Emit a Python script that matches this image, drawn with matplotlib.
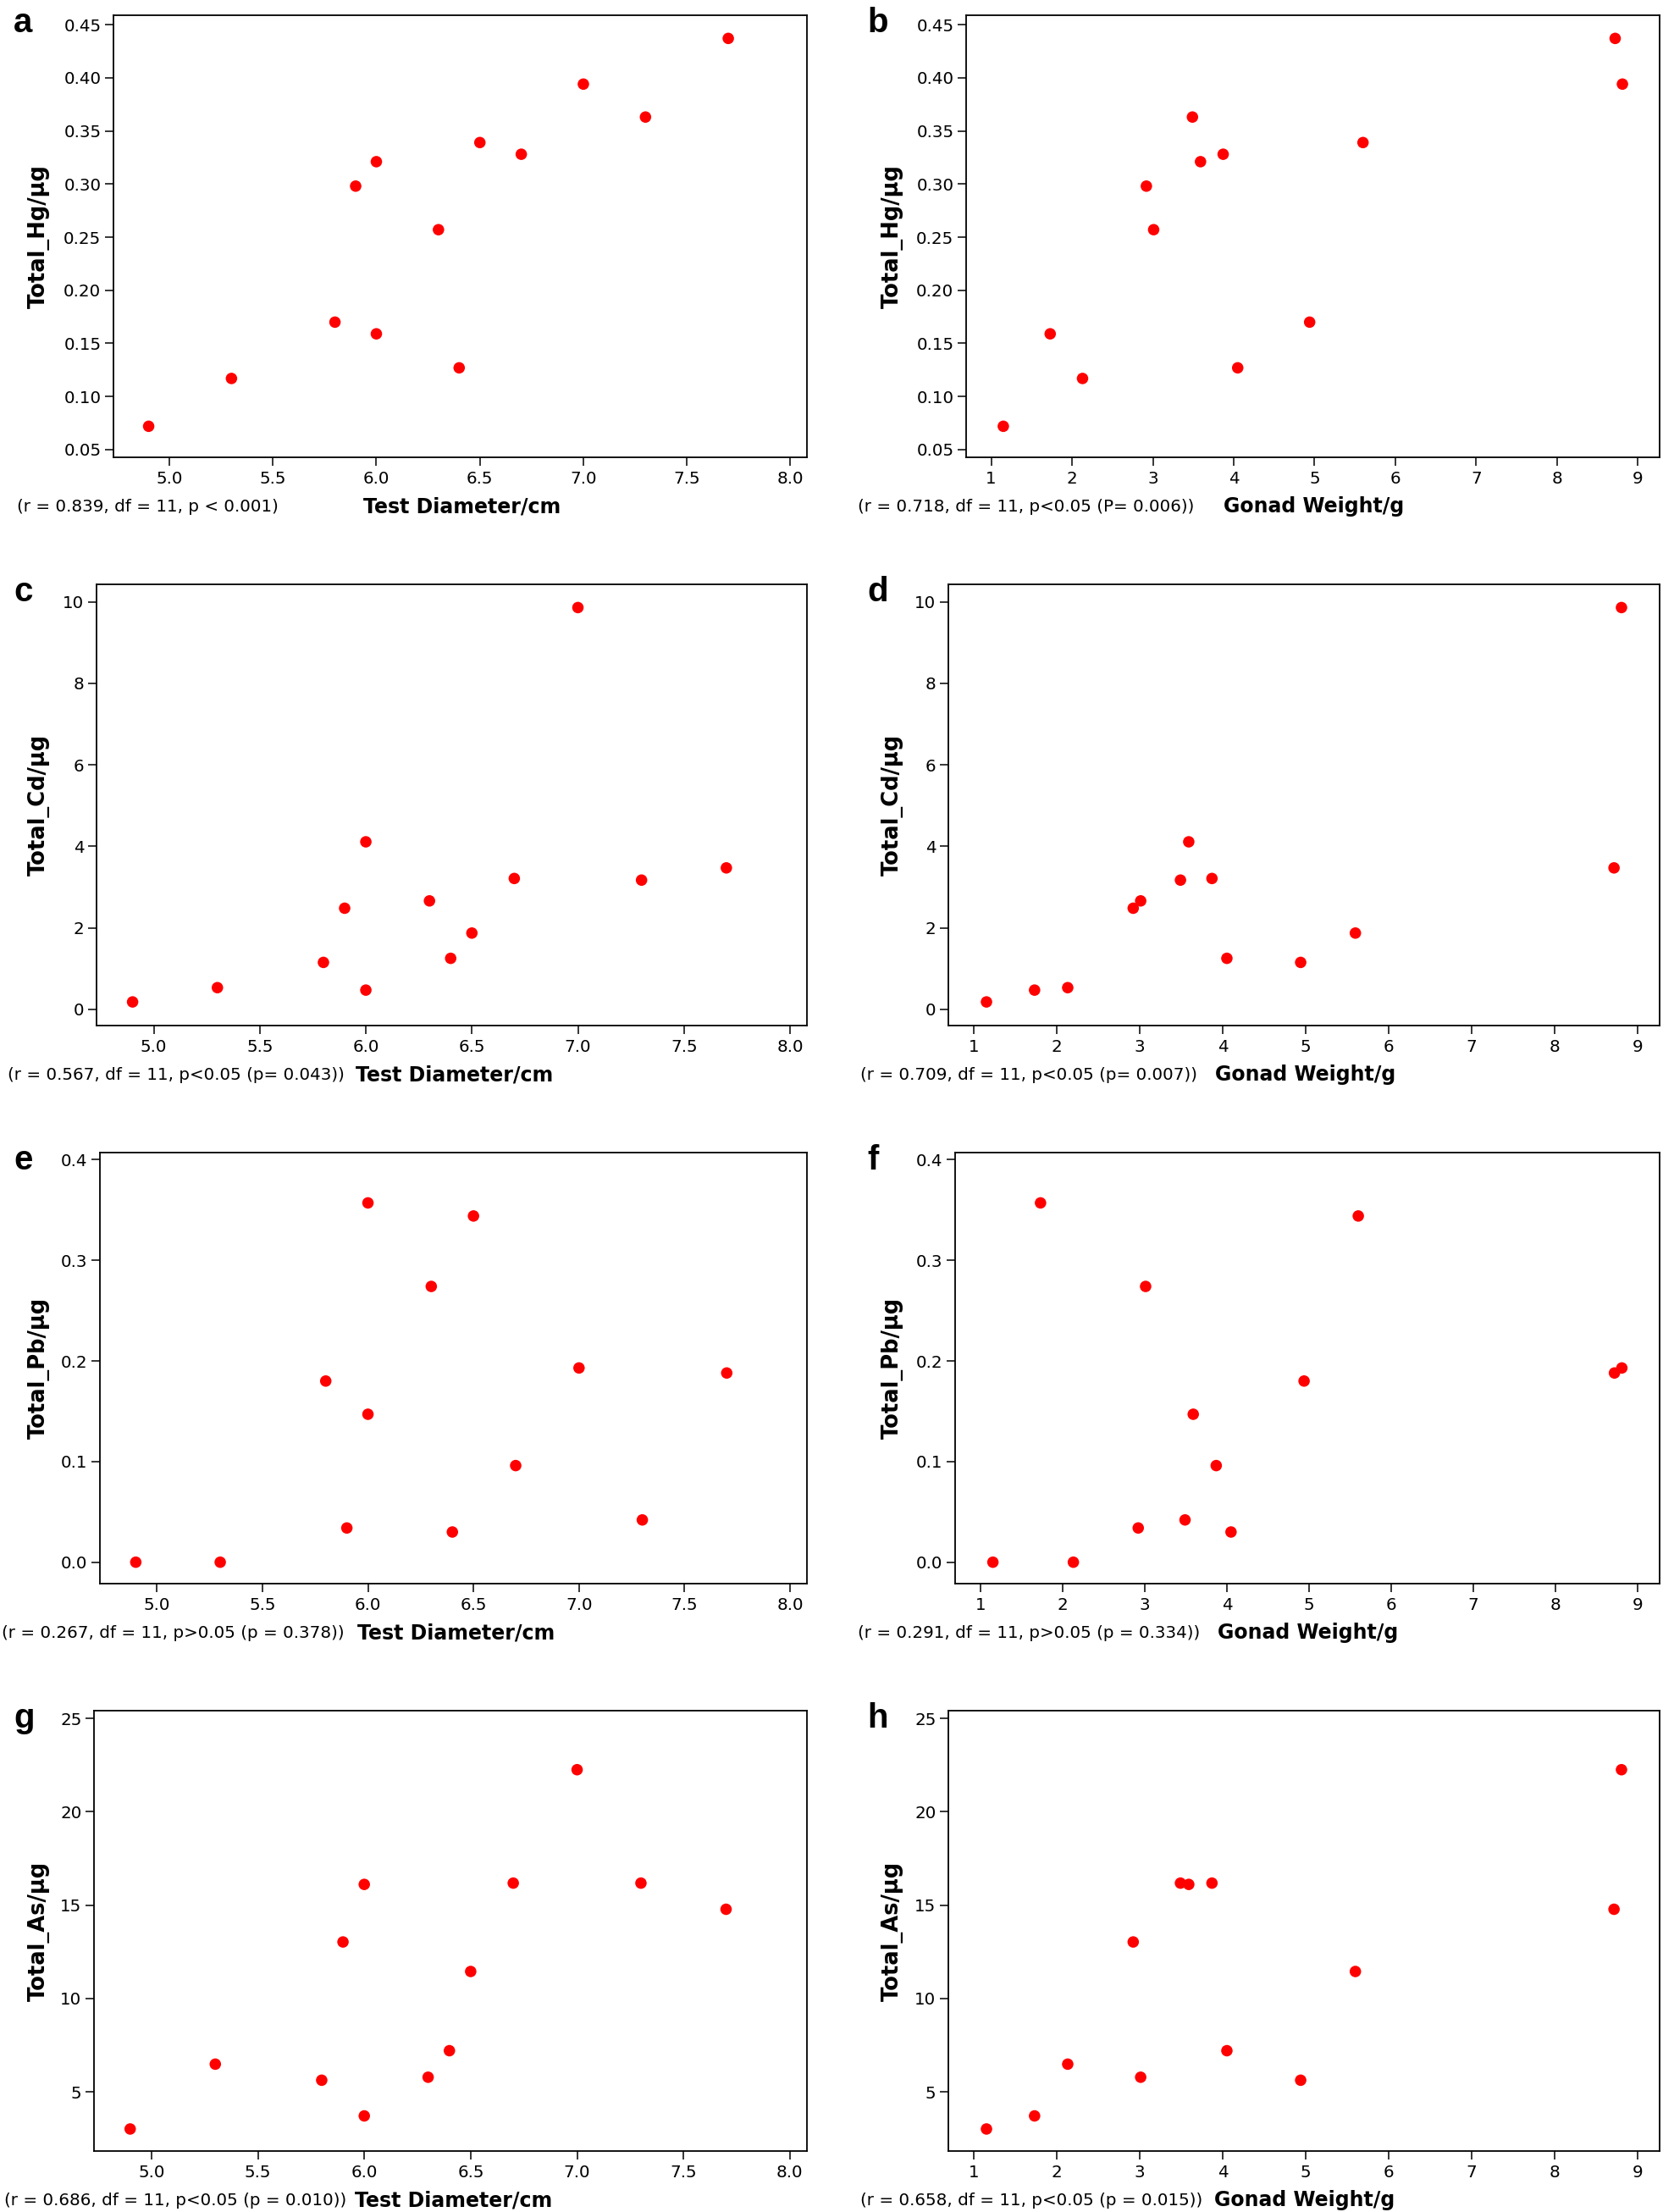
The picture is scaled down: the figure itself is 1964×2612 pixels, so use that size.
import matplotlib
matplotlib.use('Agg')
from matplotlib import pyplot as plt
from matplotlib.ticker import FormatStrFormatter

# Sea urchin specimens (13), sorted by test diameter
test_diameter = [4.9, 5.3, 5.8, 5.9, 6.0, 6.0, 6.3, 6.4, 6.5, 6.7, 7.0, 7.3, 7.7]
gonad_weight = [1.15, 2.13, 4.94, 2.92, 3.59, 1.73, 3.01, 4.05, 5.60, 3.87, 8.81, 3.49, 8.72]

total_hg = [0.072, 0.117, 0.170, 0.298, 0.321, 0.159, 0.257, 0.127, 0.339, 0.328, 0.394, 0.363, 0.437]
total_cd = [0.18, 0.53, 1.15, 2.48, 4.11, 0.47, 2.66, 1.25, 1.87, 3.21, 9.86, 3.17, 3.47]
total_pb = [0.0, 0.0, 0.180, 0.034, 0.147, 0.357, 0.274, 0.030, 0.344, 0.096, 0.193, 0.042, 0.188]
total_as = [3.02, 6.49, 5.63, 13.03, 16.11, 3.72, 5.79, 7.21, 11.45, 16.18, 22.25, 16.18, 14.78]

# Statistics printed under each panel
stats = {
    'a': '(r = 0.839, df = 11, p < 0.001)',
    'b': '(r = 0.718, df = 11, p<0.05 (P= 0.006))',
    'c': '(r = 0.567, df = 11, p<0.05 (p= 0.043))',
    'd': '(r = 0.709, df = 11, p<0.05 (p= 0.007))',
    'e': '(r = 0.267, df = 11, p>0.05 (p = 0.378))',
    'f': '(r = 0.291, df = 11, p>0.05 (p = 0.334))',
    'g': '(r = 0.686, df = 11, p<0.05 (p = 0.010))',
    'h': '(r = 0.658, df = 11, p<0.05 (p = 0.015))',
}

W, H = 1965, 2612


def fx(x):
    return x / W


def fy(y):
    return 1 - y / H


def draw_panel(fig, letter, box, x, y, xlab, ylab, xlim, ylim, xticks, yticks,
               xfmt, yfmt, stat_x, xlab_x):
    left, right, top, bottom = box
    ax = fig.add_axes([fx(left), fy(bottom), fx(right - left), (bottom - top) / H])
    ax.scatter(x, y, s=95, color='#ff0000', edgecolors='none', zorder=3)

    ax.set_xlim(*xlim)
    ax.set_ylim(*ylim)
    ax.set_xticks(xticks)
    ax.set_yticks(yticks)
    if xfmt:
        ax.xaxis.set_major_formatter(FormatStrFormatter(xfmt))
    if yfmt:
        ax.yaxis.set_major_formatter(FormatStrFormatter(yfmt))

    ax.tick_params(direction='out', length=7, width=1.1, labelsize=14.3,
                   top=False, right=False)
    ax.tick_params(axis='y', pad=3.5)
    ax.tick_params(axis='x', pad=4.5)
    for sp in ax.spines.values():
        sp.set_linewidth(1.3)
        sp.set_color('black')

    # Labels are placed freely like in the original layout
    text_y = bottom + 58
    fig.text(fx(stat_x), fy(text_y), stats[letter], fontsize=14.3,
             ha='left', va='center')
    fig.text(fx(xlab_x), fy(text_y), xlab, fontsize=17, fontweight='bold',
             ha='center', va='center')
    ylab_x = 46 if left < 900 else 1054
    fig.text(fx(ylab_x), fy((top + bottom) / 2), ylab, fontsize=18.5,
             fontweight='bold', rotation=90, ha='center', va='center')
    letter_x = 16 if left < 900 else 1024
    fig.text(fx(letter_x), fy(top + 20), letter, fontsize=29,
             fontweight='bold', family='Liberation Sans', ha='left', va='baseline')
    return ax


def main():
    fig = plt.figure(figsize=(W / 100, H / 100), dpi=100)

    td_lim = (4.73, 8.08)
    td_ticks = [5.0, 5.5, 6.0, 6.5, 7.0, 7.5, 8.0]
    gw_lim = (0.69, 9.27)
    gw_ticks = list(range(1, 10))
    td_lab = 'Test Diameter/cm'
    gw_lab = 'Gonad Weight/g'

    rows = [
        ('Total_Hg/µg', total_hg, (0.0428, 0.4588),
         [0.05, 0.10, 0.15, 0.20, 0.25, 0.30, 0.35, 0.40, 0.45], '%.2f', 18, 540),
        ('Total_Cd/µg', total_cd, (-0.40, 10.43),
         [0, 2, 4, 6, 8, 10], '%d', 690, 1211),
        ('Total_Pb/µg', total_pb, (-0.0213, 0.407),
         [0.0, 0.1, 0.2, 0.3, 0.4], '%.1f', 1361, 1870),
        ('Total_As/µg', total_as, (1.84, 25.41),
         [5, 10, 15, 20, 25], '%d', 2020, 2540),
    ]
    left_edges = [(134, 1141), (114, 1120), (118, 1128), (111, 1120)]
    letters = [('a', 'b'), ('c', 'd'), ('e', 'f'), ('g', 'h')]
    stat_xs = [(20, 1013), (9, 1016), (2, 1013), (5, 1016)]
    xlab_xs = [(546, 1552), (537, 1542), (539, 1545), (536, 1541)]

    for i, (ylab, vals, ylim, yticks, yfmt, top, bottom) in enumerate(rows):
        l_left, r_left = left_edges[i]
        draw_panel(fig, letters[i][0], (l_left, 953, top, bottom),
                   test_diameter, vals, td_lab, ylab, td_lim, ylim,
                   td_ticks, yticks, '%.1f', yfmt, stat_xs[i][0], xlab_xs[i][0])
        draw_panel(fig, letters[i][1], (r_left, 1960, top, bottom),
                   gonad_weight, vals, gw_lab, ylab, gw_lim, ylim,
                   gw_ticks, yticks, '%d', yfmt, stat_xs[i][1], xlab_xs[i][1])

    fig.savefig('out.png', dpi=100, facecolor='white')


if __name__ == '__main__':
    main()
